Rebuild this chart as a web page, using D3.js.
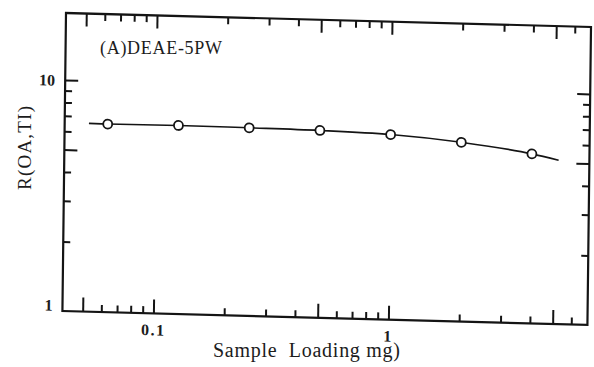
<!DOCTYPE html>
<html>
<head>
<meta charset="utf-8">
<script src="https://cdn.jsdelivr.net/npm/d3@7"></script>
<style>
  html, body { margin: 0; padding: 0; background: #fff; }
  svg { display: block; }
</style>
</head>
<body>
<svg id="chart" width="594" height="367"></svg>
<script>
// Sample loading (mg) and measured resolution ratio
const loading = [0.0625, 0.125, 0.25, 0.5, 1, 2, 4];
const ratio = [6.52, 6.55, 6.52, 6.47, 6.33, 5.97, 5.42];

// Smoothed trend curve, running a little past the first and last points
const curveLoading = [0.052, 0.0625, 0.125, 0.25, 0.5, 1, 2, 4, 5.2];
const curveRatio = [6.53, 6.52, 6.55, 6.52, 6.47, 6.33, 5.97, 5.42, 5.12];

// Axis ticks
const xMajorTicks = [0.05, 0.1, 0.5, 1, 5];
const xMinorTicks = [0.06, 0.07, 0.08, 0.09, 0.2, 0.3, 0.4, 0.6, 0.7, 0.8, 0.9, 2, 3, 4, 6];
const xLabelTicks = [0.1, 1];
const xLabelText = ["0.1", "1"];
const yMajorTicks = [10, 5];
const yMinorTicks = [2, 3, 4, 6, 7, 8, 9];
const yLabelTicks = [1, 10];
const yLabelText = ["1", "10"];

const xTitle = "Sample  Loading mg)";
const yTitle = "R(OA,TI)";
const panelTitle = "(A)DEAE-5PW";

const serif = '"Liberation Serif"';
const textInk = "#1c1c1c";

const svg = d3.select("#chart");

const plotLeft = 66, plotTop = 13, plotRight = 591, plotBottom = 311;
const x = d3.scaleLog().domain([0.041, 7.03]).range([plotLeft, plotRight]);
const y = d3.scaleLog().domain([1, 19.5]).range([plotBottom, plotTop]);

// The printed frame is slightly skewed on the page
const frame = svg.append("g")
  .attr("transform", `translate(${plotLeft},${plotTop}) matrix(1,0.0266,-0.012,1,0,0) translate(${-plotLeft},${-plotTop})`);

const ink = "#141414";

function styleAxis(g) {
  g.select(".domain").remove();
  g.selectAll(".tick line").attr("stroke", ink).attr("stroke-width", 2);
  g.selectAll(".tick text").remove();
}

// Bottom ticks (pointing up into the plot)
frame.append("g").attr("transform", `translate(0,${plotBottom})`)
  .call(d3.axisBottom(x).tickValues(xMajorTicks).tickSize(-14).tickFormat(""))
  .call(styleAxis);
frame.append("g").attr("transform", `translate(0,${plotBottom})`)
  .call(d3.axisBottom(x).tickValues(xMinorTicks).tickSize(-7).tickFormat(""))
  .call(styleAxis);
// Top ticks (pointing down)
frame.append("g").attr("transform", `translate(0,${plotTop})`)
  .call(d3.axisTop(x).tickValues(xMajorTicks).tickSize(-13).tickFormat(""))
  .call(styleAxis);
frame.append("g").attr("transform", `translate(0,${plotTop})`)
  .call(d3.axisTop(x).tickValues(xMinorTicks).tickSize(-7).tickFormat(""))
  .call(styleAxis);
// Left ticks (pointing right)
frame.append("g").attr("transform", `translate(${plotLeft},0)`)
  .call(d3.axisLeft(y).tickValues(yMajorTicks).tickSize(-13).tickFormat(""))
  .call(styleAxis);
frame.append("g").attr("transform", `translate(${plotLeft},0)`)
  .call(d3.axisLeft(y).tickValues(yMinorTicks).tickSize(-7).tickFormat(""))
  .call(styleAxis);
// Right ticks (pointing left)
frame.append("g").attr("transform", `translate(${plotRight},0)`)
  .call(d3.axisRight(y).tickValues(yMajorTicks).tickSize(-13).tickFormat(""))
  .call(styleAxis);
frame.append("g").attr("transform", `translate(${plotRight},0)`)
  .call(d3.axisRight(y).tickValues(yMinorTicks).tickSize(-7).tickFormat(""))
  .call(styleAxis);

// Frame
frame.append("rect")
  .attr("x", plotLeft).attr("y", plotTop)
  .attr("width", plotRight - plotLeft).attr("height", plotBottom - plotTop)
  .attr("fill", "none").attr("stroke", ink).attr("stroke-width", 2.2);

// Tick labels
frame.selectAll(".xlab").data(xLabelTicks).join("text")
  .attr("class", "xlab")
  .attr("x", d => x(d)).attr("y", plotBottom + 22)
  .attr("text-anchor", "middle")
  .attr("fill", textInk)
  .style("font-family", serif).style("font-weight", "bold").style("font-size", "16px")
  .attr("letter-spacing", 1.5)
  .text((d, i) => xLabelText[i]);

frame.selectAll(".ylab").data(yLabelTicks).join("text")
  .attr("class", "ylab")
  .attr("x", plotLeft - 10)
  .attr("y", d => Math.min(y(d) + 6, y(1)))
  .attr("text-anchor", "end")
  .attr("fill", textInk)
  .style("font-family", serif).style("font-weight", "bold").style("font-size", "16px")
  .text((d, i) => yLabelText[i]);

// Trend curve
const curvePts = curveLoading.map((v, i) => [v, curveRatio[i]]);
frame.append("path")
  .datum(curvePts)
  .attr("fill", "none").attr("stroke", ink).attr("stroke-width", 1.6)
  .attr("d", d3.line().x(d => x(d[0])).y(d => y(d[1])).curve(d3.curveMonotoneX));

// Data points
frame.selectAll(".pt").data(loading).join("circle")
  .attr("class", "pt")
  .attr("cx", d => x(d))
  .attr("cy", (d, i) => y(ratio[i]))
  .attr("r", 4.5)
  .attr("fill", "#fff").attr("stroke", ink).attr("stroke-width", 1.8);

// Panel title
svg.append("text")
  .attr("x", 100).attr("y", 54)
  .attr("fill", textInk)
  .style("font-family", serif).style("font-size", "18px")
  .attr("textLength", 122).attr("lengthAdjust", "spacing")
  .text(panelTitle);

// Axis titles
svg.append("text")
  .attr("x", 213).attr("y", 357)
  .attr("fill", textInk)
  .style("font-family", serif).style("font-size", "20px")
  .style("white-space", "pre")
  .attr("textLength", 187).attr("lengthAdjust", "spacing")
  .text(xTitle);

svg.append("text")
  .attr("transform", "translate(31,148) rotate(-90)")
  .attr("text-anchor", "middle")
  .attr("fill", textInk)
  .style("font-family", serif).style("font-size", "19px")
  .attr("textLength", 84).attr("lengthAdjust", "spacing")
  .text(yTitle);
</script>
</body>
</html>
